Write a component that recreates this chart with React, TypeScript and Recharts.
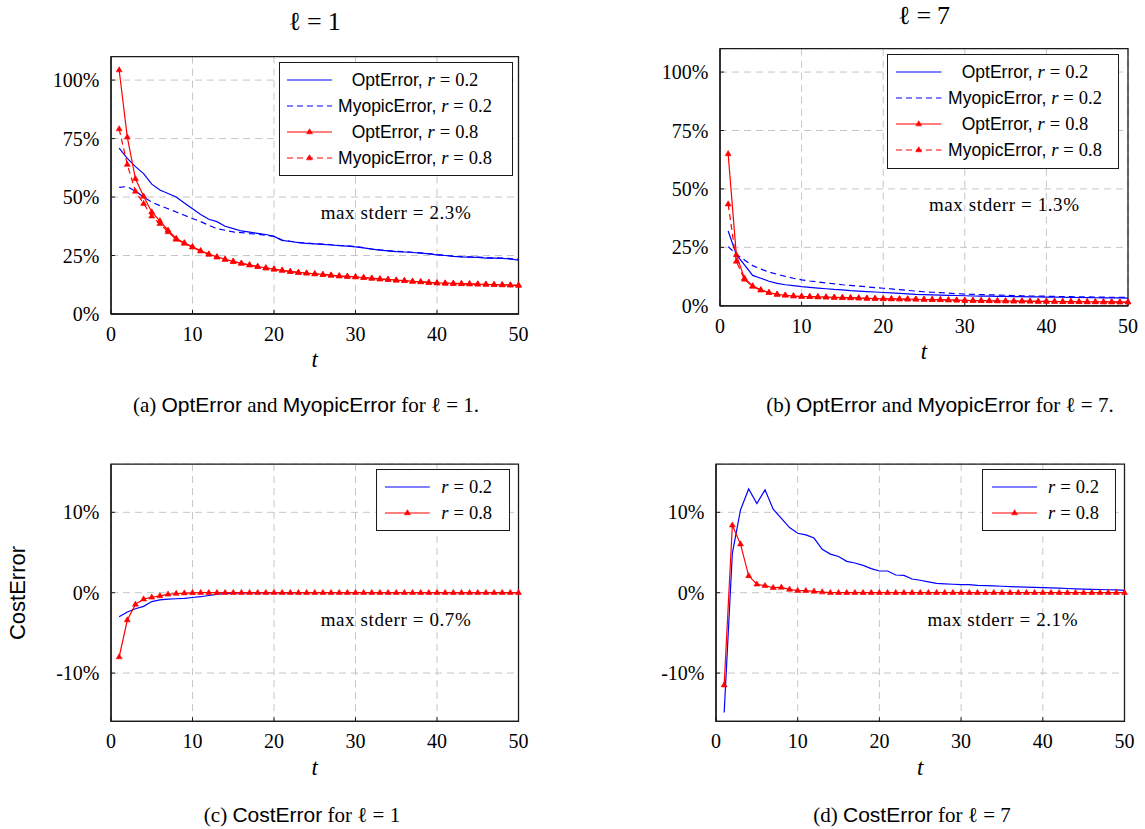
import React from 'react';
import { LineChart, Line, XAxis, YAxis, CartesianGrid, Label, ReferenceArea } from 'recharts';

const SERIF = '"Liberation Serif", "DejaVu Serif", serif';
const SANS = '"Liberation Sans", "DejaVu Sans", sans-serif';
const BLUE = '#0000ff';
const RED = '#ff0000';

// time steps t = 1..50
const steps = [
  1, 2, 3, 4, 5, 6, 7, 8, 9, 10, 11, 12, 13, 14, 15, 16, 17, 18, 19, 20, 21, 22, 23, 24, 25,
  26, 27, 28, 29, 30, 31, 32, 33, 34, 35, 36, 37, 38, 39, 40, 41, 42, 43, 44, 45, 46, 47, 48, 49, 50,
];
const tTicks = [0, 10, 20, 30, 40, 50];
const errorTicks = [0, 25, 50, 75, 100];
const costTicks = [-10, 0, 10];

// (a) l = 1, error in %
const optA02 = [
  70.9, 66.5, 63, 60, 55.5, 53, 51.5, 50, 47.5, 45, 42.5, 40.5, 39.5, 37.5, 36.5, 35.5, 35, 34.5, 34, 33.2,
  31.5, 31, 30.5, 30.2, 30, 29.8, 29.5, 29.2, 29, 28.7, 28.3, 27.7, 27.3, 27, 26.7, 26.5, 26.3, 26, 25.7, 25.3,
  25, 24.6, 24.4, 24.3, 24.2, 23.9, 23.9, 23.8, 23.5, 23,
];
const myopicA02 = [
  54.1, 54.5, 52.5, 50, 47.8, 46.3, 45, 43.6, 42.2, 40.8, 39.5, 37.9, 36.5, 35.8, 35.1, 34.8, 34.4, 34.1, 33.7, 33.2,
  31.6, 31.1, 30.6, 30.3, 30.1, 29.9, 29.6, 29.3, 29.1, 28.8, 28.4, 27.8, 27.4, 27.1, 26.8, 26.6, 26.4, 26.1, 25.8, 25.4,
  25.1, 24.7, 24.5, 24.4, 24.3, 24.1, 24.0, 23.9, 23.7, 23.4,
];
const optA08 = [
  104.3, 75.6, 57.8, 50.3, 43.6, 39.8, 35.8, 32.3, 30.4, 28.7, 27, 25.6, 24.4, 23.4, 22.5, 21.7, 21.0, 20.3, 19.7, 19.2,
  18.7, 18.2, 17.8, 17.5, 17.2, 16.9, 16.6, 16.3, 16.1, 15.9, 15.6, 15.3, 15.0, 14.8, 14.5, 14.3, 14.0, 13.8, 13.5, 13.3,
  13.2, 13.1, 13.0, 12.9, 12.8, 12.7, 12.6, 12.5, 12.4, 12.3,
];
const myopicA08 = [
  79.1, 63.9, 52.4, 47.2, 41.8, 38.6, 35.1, 31.9, 30.2, 28.6, 26.9, 25.5, 24.3, 23.3, 22.4, 21.6, 20.9, 20.2, 19.6, 19.1,
  18.6, 18.1, 17.7, 17.4, 17.1, 16.8, 16.5, 16.2, 16.0, 15.8, 15.5, 15.2, 14.9, 14.7, 14.4, 14.2, 13.9, 13.7, 13.4, 13.2,
  13.1, 13.0, 12.9, 12.8, 12.7, 12.6, 12.5, 12.4, 12.3, 12.2,
];

// (b) l = 7, error in %
const optB02 = [
  32, 22, 17.5, 13, 11.8, 10.5, 9.6, 9.0, 8.6, 8.2, 7.9, 7.6, 7.3, 7.0, 6.8, 6.5, 6.3, 6.1, 5.9, 5.7,
  5.5, 5.3, 5.1, 4.9, 4.8, 4.7, 4.6, 4.5, 4.4, 4.3, 4.2, 4.15, 4.1, 4.05, 4.0, 3.95, 3.9, 3.85, 3.8, 3.75,
  3.7, 3.65, 3.6, 3.55, 3.5, 3.45, 3.4, 3.4, 3.35, 3.3,
];
const myopicB02 = [
  25.3, 22, 19.6, 17.2, 15.7, 14.5, 13.5, 12.6, 11.8, 11.1, 10.6, 10.2, 9.8, 9.4, 9.0, 8.7, 8.4, 8.1, 7.8, 7.5,
  7.2, 6.9, 6.6, 6.3, 6.0, 5.8, 5.6, 5.4, 5.2, 5.0, 4.9, 4.8, 4.7, 4.6, 4.5, 4.4, 4.3, 4.2, 4.15, 4.1,
  4.0, 3.95, 3.9, 3.85, 3.8, 3.75, 3.7, 3.65, 3.6, 3.55,
];
const optB08 = [
  65, 21.8, 11.8, 8.5, 6.8, 5.7, 4.9, 4.5, 4.2, 4.0, 3.9, 3.8, 3.7, 3.6, 3.5, 3.4, 3.3, 3.2, 3.1, 3.0,
  2.95, 2.9, 2.85, 2.8, 2.7, 2.65, 2.6, 2.5, 2.4, 2.3, 2.25, 2.2, 2.15, 2.1, 2.05, 2.0, 2.0, 1.95, 1.9, 1.9,
  1.85, 1.8, 1.8, 1.75, 1.7, 1.7, 1.65, 1.65, 1.6, 1.6,
];
const myopicB08 = [
  43.5, 19, 11.3, 8.3, 6.7, 5.6, 4.9, 4.5, 4.2, 4.0, 3.9, 3.8, 3.7, 3.6, 3.5, 3.4, 3.3, 3.2, 3.1, 3.0,
  2.95, 2.9, 2.85, 2.8, 2.7, 2.65, 2.6, 2.5, 2.4, 2.3, 2.25, 2.2, 2.15, 2.1, 2.05, 2.0, 2.0, 1.95, 1.9, 1.9,
  1.85, 1.8, 1.8, 1.75, 1.7, 1.7, 1.65, 1.65, 1.6, 1.6,
];

// (c) CostError, l = 1, in %
const costC02 = [
  -3.0, -2.4, -2.0, -1.7, -1.1, -0.9, -0.8, -0.75, -0.7, -0.6, -0.5, -0.35, -0.2, -0.1, -0.06, -0.04, -0.03, -0.02, -0.02, -0.01,
  -0.01, -0.01, 0, 0, 0, 0, 0, 0, 0, 0, 0, 0, 0, 0, 0, 0, 0, 0, 0, 0,
  0, 0, 0, 0, 0, 0, 0, 0, 0, 0,
];
const costC08 = [
  -8.0, -3.4, -1.45, -0.8, -0.57, -0.4, -0.2, -0.1, -0.05, -0.02, 0, 0, 0, 0, 0, 0, 0, 0, 0, 0,
  0, 0, 0, 0, 0, 0, 0, 0, 0, 0, 0, 0, 0, 0, 0, 0, 0, 0, 0, 0,
  0, 0, 0, 0, 0, 0, 0, 0, 0, 0,
];

// (d) CostError, l = 7, in %
const costD02 = [
  -14.9, 4.9, 10.3, 12.9, 11.1, 12.8, 10.4, 9.25, 8.1, 7.4, 7.2, 6.8, 5.4, 4.8, 4.5, 3.9, 3.7, 3.4, 3.0, 2.7,
  2.7, 2.2, 2.15, 1.7, 1.55, 1.35, 1.15, 1.1, 1.05, 1.0, 1.0, 0.9, 0.88, 0.85, 0.8, 0.75, 0.72, 0.7, 0.66, 0.62,
  0.6, 0.56, 0.52, 0.48, 0.45, 0.42, 0.4, 0.37, 0.34, 0.3,
];
const costD08 = [
  -11.5, 8.4, 6.05, 2.1, 1.05, 0.87, 0.62, 0.66, 0.41, 0.25, 0.25, 0.17, 0.08, 0, 0, 0, 0, 0, 0, 0,
  0, 0, 0, 0, 0, 0, 0, 0, 0, 0, 0, 0, 0, 0, 0, 0, 0, 0, 0, 0,
  0, 0, 0, 0, 0, 0, 0, 0, 0, 0,
];

type Series = {
  key: string;
  name: string;
  r: string;
  color: string;
  dashed: boolean;
  marker: boolean;
  values: number[];
};

const errorSeries = (opt02: number[], my02: number[], opt08: number[], my08: number[]): Series[] => [
  { key: 'opt02', name: 'OptError', r: '0.2', color: BLUE, dashed: false, marker: false, values: opt02 },
  { key: 'my02', name: 'MyopicError', r: '0.2', color: BLUE, dashed: true, marker: false, values: my02 },
  { key: 'opt08', name: 'OptError', r: '0.8', color: RED, dashed: false, marker: true, values: opt08 },
  { key: 'my08', name: 'MyopicError', r: '0.8', color: RED, dashed: true, marker: true, values: my08 },
];

const costSeries = (c02: number[], c08: number[]): Series[] => [
  { key: 'c02', name: '', r: '0.2', color: BLUE, dashed: false, marker: false, values: c02 },
  { key: 'c08', name: '', r: '0.8', color: RED, dashed: false, marker: true, values: c08 },
];

function Triangle(props: any) {
  const { cx, cy, stroke, index } = props;
  if (cx == null || cy == null) return <g key={index} />;
  const r = 3.3;
  return (
    <polygon
      key={index}
      points={`${cx},${cy - r} ${cx - r * 0.9},${cy + r * 0.55} ${cx + r * 0.9},${cy + r * 0.55}`}
      fill={stroke}
      stroke={stroke}
      strokeWidth={0.6}
    />
  );
}

function MathR({ r }: { r: string }) {
  return (
    <span style={{ fontFamily: SERIF, fontSize: 18.5 }}>
      <i>r</i>
      <span style={{ margin: '0 5px' }}>=</span>
      {r}
    </span>
  );
}

type LegendLayout = {
  left: number;
  top: number;
  width: number;
  height: number;
  row0: number;
  rowStep: number;
  sampleX: number;
  sampleW: number;
  textCenter: number;
};

function LegendBox({ series, lg }: { series: Series[]; lg: LegendLayout }) {
  return (
    <div
      style={{
        position: 'absolute',
        left: lg.left,
        top: lg.top,
        width: lg.width,
        height: lg.height,
        border: '1.3px solid #1a1a1a',
        boxSizing: 'border-box',
        background: '#fff',
      }}
    >
      {series.map((s, i) => {
        const cy = lg.row0 + i * lg.rowStep;
        return (
          <React.Fragment key={s.key}>
            <svg
              style={{ position: 'absolute', left: lg.sampleX, top: cy - 6 }}
              width={lg.sampleW}
              height={12}
            >
              <line
                x1={0}
                y1={6}
                x2={lg.sampleW}
                y2={6}
                stroke={s.color}
                strokeWidth={1.2}
                strokeDasharray={s.dashed ? '6 4' : undefined}
              />
              {s.marker && <Triangle cx={lg.sampleW / 2} cy={6} stroke={s.color} index={0} />}
            </svg>
            <div
              style={{
                position: 'absolute',
                left: lg.textCenter,
                top: cy,
                transform: 'translate(-50%, -50%)',
                whiteSpace: 'nowrap',
                lineHeight: 1,
                color: '#000',
              }}
            >
              {s.name && <span style={{ fontFamily: SANS, fontSize: 17.5 }}>{s.name}, </span>}
              <MathR r={s.r} />
            </div>
          </React.Fragment>
        );
      })}
    </div>
  );
}

type PanelDef = {
  id: string;
  series: Series[];
  yDomain: [number, number];
  yTicks: number[];
  box: { left: number; top: number; width: number; height: number };
  plot: { left: number; right: number; top: number; bottom: number };
  tOffset: number;
  legend: LegendLayout;
  note: string;
  noteAt: [number, number];
};

const panels: PanelDef[] = [
  {
    id: 'a',
    series: errorSeries(optA02, myopicA02, optA08, myopicA08),
    yDomain: [0, 110],
    yTicks: errorTicks,
    box: { left: 0, top: 0, width: 545, height: 380 },
    plot: { left: 111, right: 518.5, top: 56.7, bottom: 314 },
    tOffset: 13,
    legend: { left: 279, top: 61.7, width: 234, height: 114.3, row0: 17.6, rowStep: 26, sampleX: 7, sampleW: 45, textCenter: 135 },
    note: 'max stderr = 2.3%',
    noteAt: [396, 212],
  },
  {
    id: 'b',
    series: errorSeries(optB02, myopicB02, optB08, myopicB08),
    yDomain: [0, 110],
    yTicks: errorTicks,
    box: { left: 572, top: 0, width: 573, height: 380 },
    plot: { left: 720, right: 1128, top: 48.7, bottom: 305.8 },
    tOffset: 21.5,
    legend: { left: 886.5, top: 54.3, width: 232.4, height: 114.7, row0: 16.7, rowStep: 26, sampleX: 8.5, sampleW: 45.5, textCenter: 137.5 },
    note: 'max stderr = 1.3%',
    noteAt: [1004.3, 204],
  },
  {
    id: 'c',
    series: costSeries(costC02, costC08),
    yDomain: [-16, 16],
    yTicks: costTicks,
    box: { left: 0, top: 440, width: 545, height: 340 },
    plot: { left: 111, right: 518.5, top: 464.1, bottom: 721.3 },
    tOffset: 5,
    legend: { left: 376, top: 469.3, width: 133.8, height: 61.4, row0: 17, rowStep: 25.4, sampleX: 8, sampleW: 44.8, textCenter: 89.7 },
    note: 'max stderr = 0.7%',
    noteAt: [396, 619],
  },
  {
    id: 'd',
    series: costSeries(costD02, costD08),
    yDomain: [-16, 16],
    yTicks: costTicks,
    box: { left: 572, top: 440, width: 573, height: 340 },
    plot: { left: 716, right: 1124.5, top: 464.1, bottom: 721.3 },
    tOffset: 5,
    legend: { left: 982, top: 469.3, width: 134.3, height: 61.4, row0: 17, rowStep: 25.4, sampleX: 8.6, sampleW: 45.2, textCenter: 90.5 },
    note: 'max stderr = 2.1%',
    noteAt: [1002.8, 619],
  },
];

const axisStroke = { stroke: '#1a1a1a', strokeWidth: 1.3 };
const tickFont = { fill: '#000', fontFamily: SERIF, fontSize: 20 };

function Panel({ p }: { p: PanelDef }) {
  const rows = steps.map((t, i) => {
    const row: Record<string, number> = { t };
    p.series.forEach((s) => {
      row[s.key] = s.values[i];
    });
    return row;
  });
  const yw = p.plot.left - p.box.left;
  const mr = p.box.left + p.box.width - p.plot.right;
  const mt = p.plot.top - p.box.top;
  const xh = p.box.top + p.box.height - p.plot.bottom;

  return (
    <>
      <div style={{ position: 'absolute', left: p.box.left, top: p.box.top }}>
        <LineChart width={p.box.width} height={p.box.height} data={rows} margin={{ top: mt, right: mr, bottom: 0, left: 0 }}>
          <CartesianGrid stroke="#c6c6c6" strokeDasharray="7 5" strokeWidth={1} />
          <XAxis
            dataKey="t"
            type="number"
            domain={[0, 50]}
            ticks={tTicks}
            interval={0}
            height={xh}
            tickSize={-4}
            tickMargin={16.5}
            tickLine={{ stroke: '#1a1a1a' }}
            axisLine={axisStroke}
            tick={tickFont}
          >
            <Label value="t" position="insideBottom" offset={p.tOffset} fontFamily={SERIF} fontStyle="italic" fontSize={23} fill="#000" />
          </XAxis>
          <YAxis
            type="number"
            domain={p.yDomain}
            ticks={p.yTicks}
            interval={0}
            width={yw}
            tickSize={-4}
            tickMargin={15.5}
            tickLine={{ stroke: '#1a1a1a' }}
            axisLine={axisStroke}
            tick={tickFont}
            tickFormatter={(v: number) => `${v}%`}
          />
          {p.series.map((s) => (
            <Line
              key={s.key}
              dataKey={s.key}
              type="linear"
              stroke={s.color}
              strokeWidth={1.2}
              strokeDasharray={s.dashed ? '6 4' : undefined}
              dot={s.marker ? (props: any) => <Triangle key={props.index} {...props} /> : false}
              activeDot={false}
              isAnimationActive={false}
            />
          ))}
          {/* plot frame */}
          <ReferenceArea
            x1={0}
            x2={50}
            y1={p.yDomain[0]}
            y2={p.yDomain[1]}
            fill="none"
            fillOpacity={0}
            stroke="#1a1a1a"
            strokeWidth={1.3}
            ifOverflow="visible"
          />
        </LineChart>
      </div>
      <LegendBox series={p.series} lg={p.legend} />
      <div
        style={{
          position: 'absolute',
          left: p.noteAt[0],
          top: p.noteAt[1],
          transform: 'translate(-50%, -50%)',
          fontFamily: SERIF,
          fontSize: 19,
          letterSpacing: 0.6,
          whiteSpace: 'nowrap',
          lineHeight: 1,
        }}
      >
        {p.note}
      </div>
    </>
  );
}

function Centered({ x, y, children, style }: { x: number; y: number; children: React.ReactNode; style?: React.CSSProperties }) {
  return (
    <div
      style={{
        position: 'absolute',
        left: x,
        top: y,
        transform: 'translate(-50%, -50%)',
        whiteSpace: 'nowrap',
        lineHeight: 1.1,
        color: '#000',
        ...style,
      }}
    >
      {children}
    </div>
  );
}

const sans = (s: string) => <span style={{ fontFamily: SANS }}>{s}</span>;
const eq = <span style={{ margin: '0 6px' }}>=</span>;

export default function App() {
  return (
    <div style={{ position: 'absolute', left: 0, top: 0, width: 1145, height: 829, background: '#fff', overflow: 'hidden', fontFamily: SERIF }}>
      {panels.map((p) => (
        <Panel key={p.id} p={p} />
      ))}
      <Centered x={314.7} y={22} style={{ fontSize: 26 }}>ℓ{eq}1</Centered>
      <Centered x={924} y={16} style={{ fontSize: 26 }}>ℓ{eq}7</Centered>
      <Centered x={306} y={405} style={{ fontSize: 21 }}>
        (a) {sans('OptError')} and {sans('MyopicError')} for ℓ = 1.
      </Centered>
      <Centered x={940} y={405} style={{ fontSize: 21 }}>
        (b) {sans('OptError')} and {sans('MyopicError')} for ℓ = 7.
      </Centered>
      <Centered x={302} y={815} style={{ fontSize: 21 }}>
        (c) {sans('CostError')} for ℓ = 1
      </Centered>
      <Centered x={912} y={815} style={{ fontSize: 21 }}>
        (d) {sans('CostError')} for ℓ = 7
      </Centered>
      <Centered x={18} y={593} style={{ fontSize: 22, fontFamily: SANS, transform: 'translate(-50%, -50%) rotate(-90deg)' }}>
        CostError
      </Centered>
    </div>
  );
}
